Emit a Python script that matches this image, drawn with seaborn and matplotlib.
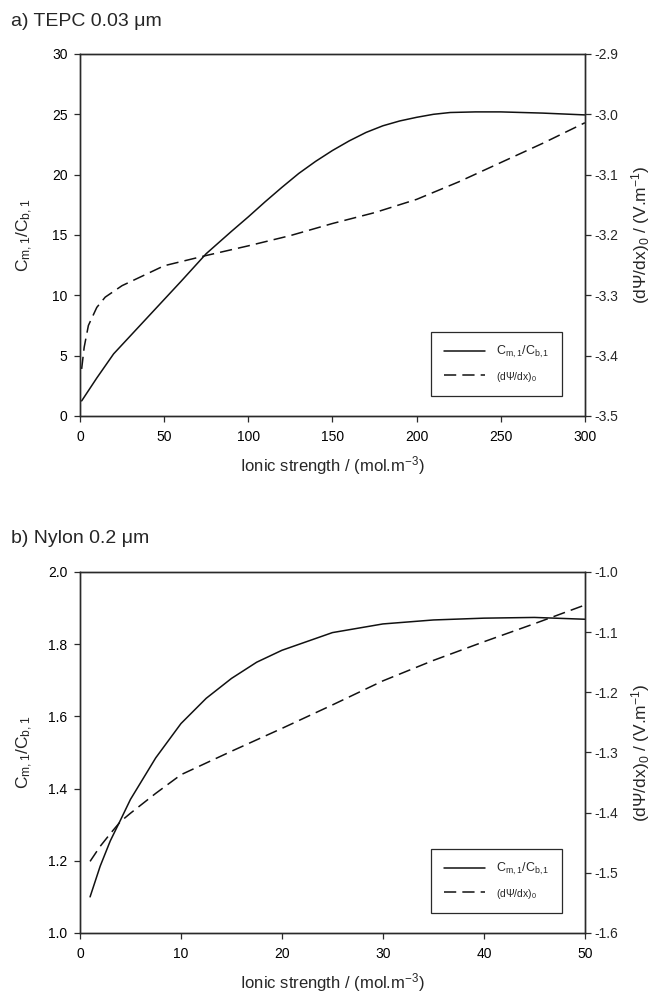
import matplotlib
matplotlib.use("Agg")
import matplotlib.pyplot as plt
from matplotlib.ticker import FormatStrFormatter
import pandas as pd
import seaborn as sns

# ---- panel a) TEPC 0.03 um ----
tepc_x_ratio = [1, 10, 20, 30, 40, 50, 60, 75, 90, 100, 110, 120, 130, 140, 150, 160,
                170, 180, 190, 200, 210, 220, 235, 250, 275, 300]
tepc_ratio = [1.25, 3.15, 5.15, 6.65, 8.15, 9.65, 11.15, 13.45, 15.3, 16.5, 17.75, 18.95,
              20.1, 21.1, 22.0, 22.8, 23.5, 24.05, 24.45, 24.75, 25.0, 25.15, 25.2,
              25.2, 25.1, 24.95]
tepc_x_grad = [1, 2.5, 5, 10, 15, 25, 50, 75, 100, 125, 150, 175, 200, 225, 250, 275, 300]
tepc_grad = [-3.422, -3.386, -3.350, -3.320, -3.303, -3.284, -3.251, -3.234, -3.218,
             -3.201, -3.181, -3.163, -3.141, -3.112, -3.080, -3.048, -3.014]

# ---- panel b) Nylon 0.2 um ----
nylon_x_ratio = [1, 2, 3, 4, 5, 7.5, 10, 12.5, 15, 17.5, 20, 25, 30, 35, 40, 45, 50]
nylon_ratio = [1.100, 1.185, 1.255, 1.312, 1.370, 1.485, 1.580, 1.650, 1.705, 1.750,
               1.783, 1.832, 1.856, 1.867, 1.872, 1.874, 1.869]
nylon_x_grad = [1, 2, 3, 4, 5, 7.5, 10, 15, 20, 25, 30, 35, 40, 45, 50]
nylon_grad = [-1.481, -1.456, -1.435, -1.415, -1.401, -1.368, -1.337, -1.298, -1.260,
              -1.221, -1.181, -1.147, -1.116, -1.086, -1.055]

# ---- axis ticks ----
tepc_xticks = [0, 50, 100, 150, 200, 250, 300]
tepc_lticks = [0, 5, 10, 15, 20, 25, 30]
tepc_rticks = [-3.5, -3.4, -3.3, -3.2, -3.1, -3.0, -2.9]
nylon_xticks = [0, 10, 20, 30, 40, 50]
nylon_lticks = [1.0, 1.2, 1.4, 1.6, 1.8, 2.0]
nylon_rticks = [-1.6, -1.5, -1.4, -1.3, -1.2, -1.1, -1.0]

titles = ["a) TEPC 0.03 \u03bcm", "b) Nylon 0.2 \u03bcm"]
xlabel = "Ionic strength / (mol.m$^{-3}$)"
ylabel_left = "C$_{m,1}$/C$_{b,1}$"
ylabel_right = "(d\u03a8/dx)$_0$ / (V.m$^{-1}$)"
legend_labels = ["C$_{m,1}$/C$_{b,1}$", "(d\u03a8/dx)$_0$"]

sns.set_style("ticks")
plt.rcParams["font.family"] = ["Liberation Sans", "DejaVu Sans"]
plt.rcParams["mathtext.fontset"] = "custom"
plt.rcParams["mathtext.rm"] = "Liberation Sans"
plt.rcParams["mathtext.it"] = "Liberation Sans:italic"
plt.rcParams["mathtext.default"] = "regular"
plt.rcParams["axes.unicode_minus"] = False

EDGE = "#2a2a2a"

fig = plt.figure(figsize=(6.67, 9.94), dpi=100)
ax_a = fig.add_axes([0.1199, 0.5815, 0.757, 0.3642])
ax_b = fig.add_axes([0.1199, 0.0614, 0.757, 0.3632])


def draw_panel(ax, xr, yr, xg, yg, xticks, lticks, rticks, lfmt):
    df_r = pd.DataFrame({"x": xr, "y": yr})
    df_g = pd.DataFrame({"x": xg, "y": yg})
    sns.lineplot(data=df_r, x="x", y="y", ax=ax, color="#111111", linewidth=1.1,
                 estimator=None, sort=False)
    ax2 = ax.twinx()
    sns.lineplot(data=df_g, x="x", y="y", ax=ax2, color="#111111", linewidth=1.1,
                 estimator=None, sort=False)
    ax2.lines[-1].set_dashes([8, 4])

    ax.set_xlim(xticks[0], xticks[-1])
    ax.set_xticks(xticks)
    ax.set_ylim(lticks[0], lticks[-1])
    ax.set_yticks(lticks)
    ax.yaxis.set_major_formatter(FormatStrFormatter(lfmt))
    ax2.set_ylim(rticks[0], rticks[-1])
    ax2.set_yticks(rticks)
    ax2.yaxis.set_major_formatter(FormatStrFormatter("%.1f"))

    for a in (ax, ax2):
        for sp in a.spines.values():
            sp.set_visible(True)
            sp.set_color(EDGE)
            sp.set_linewidth(1.0)
    ax.tick_params(axis="both", which="both", direction="out", length=4, width=0.9,
                   color=EDGE, labelsize=10, labelcolor="black", top=False, right=False)
    ax.tick_params(axis="x", pad=6)
    ax.tick_params(axis="y", pad=5)
    ax2.tick_params(axis="y", direction="out", length=4, width=0.9, color=EDGE,
                    labelsize=10, pad=3, left=False, right=True)

    ax.set_xlabel(xlabel, fontsize=12)
    ax.set_ylabel(ylabel_left, fontsize=12.5)
    ax2.set_ylabel(ylabel_right, fontsize=12.5)
    ax.xaxis.set_label_coords(0.5, -0.105)
    ax.yaxis.set_label_coords(-0.09, 0.5)
    ax2.yaxis.set_label_coords(1.088, 0.5)

    handles = [ax.lines[0], ax2.lines[-1]]
    leg = ax2.legend(handles, legend_labels, loc="lower right",
                     bbox_to_anchor=(0.955, 0.055), frameon=True, fancybox=False,
                     framealpha=1, edgecolor=EDGE, fontsize=9, handlelength=3.3,
                     handletextpad=0.9, borderpad=1.0, labelspacing=0.75,
                     borderaxespad=0)
    leg.get_frame().set_linewidth(0.9)
    leg.get_texts()[1].set_fontsize(7.5)
    return ax2


draw_panel(ax_a, tepc_x_ratio, tepc_ratio, tepc_x_grad, tepc_grad,
           tepc_xticks, tepc_lticks, tepc_rticks, "%d")
draw_panel(ax_b, nylon_x_ratio, nylon_ratio, nylon_x_grad, nylon_grad,
           nylon_xticks, nylon_lticks, nylon_rticks, "%.1f")

fig.text(11 / 667, 1 - 26 / 994, titles[0], fontsize=14, va="baseline", ha="left")
fig.text(11 / 667, 1 - 543 / 994, titles[1], fontsize=14, va="baseline", ha="left")

fig.savefig("out.png", dpi=100)
